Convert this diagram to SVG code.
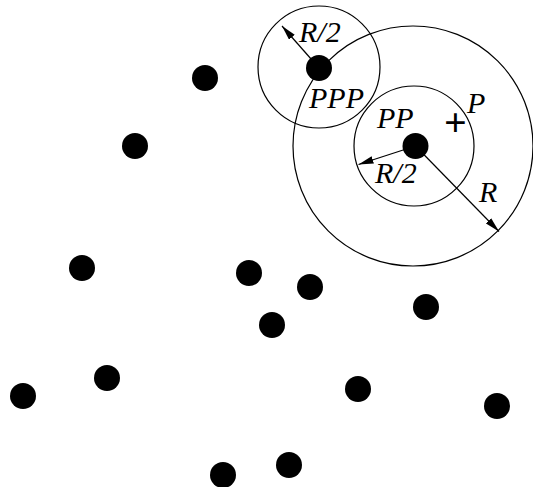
<svg xmlns="http://www.w3.org/2000/svg" width="533" height="487" viewBox="0 0 533 487">
<style>
.ring{fill:none;stroke:#000;stroke-width:1.2}
.dot{fill:#000}
.arr{stroke:#000;stroke-width:1.2;fill:none;marker-end:url(#ah)}
.lbl{font-family:"Liberation Serif","Times New Roman",serif;font-style:italic;font-size:30px;fill:#000}
.plus{font-family:"Liberation Serif","Times New Roman",serif;font-weight:bold;font-size:40px;fill:#000}
</style>
<defs>
<marker id="ah" markerUnits="userSpaceOnUse" markerWidth="16" markerHeight="8" refX="15" refY="3.75" orient="auto">
<path d="M0,0 L15,3.75 L0,7.5 z" fill="#000"/>
</marker>
</defs>
<rect width="533" height="487" fill="#fff"/>
<g id="circles">
<circle class="ring" cx="319" cy="67" r="61"/>
<circle class="ring" cx="413" cy="146" r="120"/>
<circle class="ring" cx="414" cy="146" r="60"/>
</g>
<g id="connectors">
<line class="arr" x1="319" y1="68" x2="282" y2="26"/>
<line class="arr" x1="415.5" y1="146" x2="358.5" y2="164.5"/>
<line class="arr" x1="415.5" y1="146" x2="499" y2="231.5"/>
</g>
<g id="points">
<circle id="n1" class="dot" cx="205" cy="78" r="13"/>
<circle id="n2" class="dot" cx="135" cy="146" r="13"/>
<circle id="n3" class="dot" cx="82" cy="268" r="13"/>
<circle id="n4" class="dot" cx="249" cy="273" r="13"/>
<circle id="n5" class="dot" cx="310" cy="287" r="13"/>
<circle id="n6" class="dot" cx="272" cy="325" r="13"/>
<circle id="ppp" class="dot" cx="319" cy="68" r="13"/>
<circle id="pp" class="dot" cx="415.5" cy="146" r="13"/>
<circle id="n7" class="dot" cx="426" cy="307" r="13"/>
<circle id="n8" class="dot" cx="23" cy="396" r="13"/>
<circle id="n9" class="dot" cx="107" cy="378" r="13"/>
<circle id="n10" class="dot" cx="358" cy="389" r="13"/>
<circle id="n11" class="dot" cx="497" cy="406" r="13"/>
<circle id="n12" class="dot" cx="223" cy="475" r="13"/>
<circle id="n13" class="dot" cx="289" cy="465" r="13"/>
</g>
<g id="labels">
<text class="lbl" x="299" y="41.5">R/2</text>
<text class="lbl" x="309" y="108">PPP</text>
<text class="lbl" x="377" y="127.5">PP</text>
<text class="lbl" x="467" y="113">P</text>
<text class="lbl" x="375" y="183">R/2</text>
<text class="lbl" x="479" y="202">R</text>
<text class="plus" x="455.5" y="136" text-anchor="middle">+</text>
</g>
</svg>
